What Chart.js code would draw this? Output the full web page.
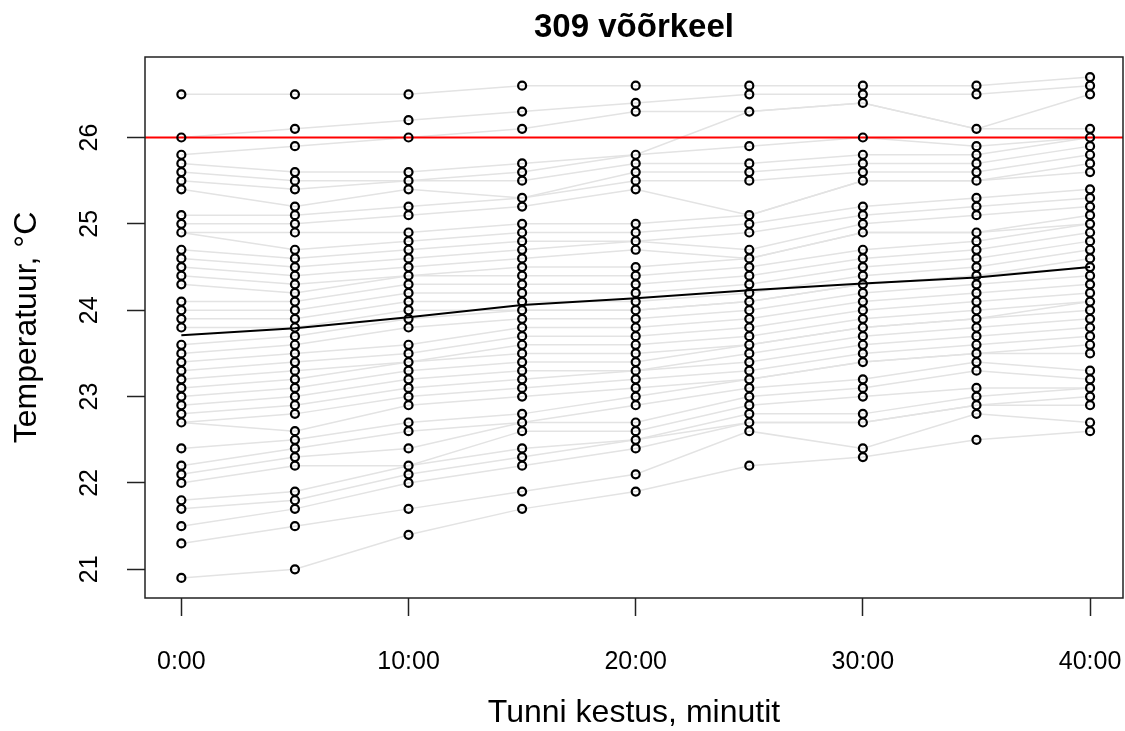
<!DOCTYPE html>
<html>
<head>
<meta charset="utf-8">
<title>309 võõrkeel</title>
<script src="https://cdn.jsdelivr.net/npm/chart.js@4/dist/chart.umd.min.js"></script>
<style>
  html, body { margin: 0; padding: 0; background: #fff; }
  canvas { display: block; }
</style>
</head>
<body>
<canvas id="tempChart" width="1125" height="731"></canvas>
<script>
// Minutes from lesson start
const minutes = [0, 5, 10, 15, 20, 25, 30, 35, 40];

// Measured temperatures at each time step, highest first
const temps00 = [26.5, 26.0, 25.8, 25.7, 25.6, 25.5, 25.4, 25.1, 25.0, 24.9, 24.7, 24.6, 24.5, 24.4, 24.3, 24.1, 24.0, 23.9, 23.8, 23.6, 23.5, 23.4, 23.3, 23.2, 23.1, 23.0, 22.9, 22.8, 22.7, 22.4, 22.2, 22.1, 22.0, 21.8, 21.7, 21.5, 21.3, 20.9];
const temps05 = [26.5, 26.1, 25.9, 25.6, 25.5, 25.4, 25.2, 25.1, 25.0, 24.9, 24.7, 24.6, 24.5, 24.4, 24.3, 24.2, 24.1, 24.0, 23.9, 23.8, 23.7, 23.6, 23.5, 23.4, 23.3, 23.2, 23.1, 23.0, 22.9, 22.8, 22.6, 22.5, 22.4, 22.3, 22.2, 21.9, 21.8, 21.7, 21.5, 21.0];
const temps10 = [26.5, 26.2, 26.0, 25.6, 25.5, 25.4, 25.2, 25.1, 24.9, 24.8, 24.7, 24.6, 24.5, 24.4, 24.3, 24.2, 24.1, 24.0, 23.9, 23.8, 23.6, 23.5, 23.4, 23.3, 23.2, 23.1, 23.0, 22.9, 22.7, 22.6, 22.4, 22.2, 22.1, 22.0, 21.7, 21.4];
const temps15 = [26.6, 26.3, 26.1, 25.7, 25.6, 25.5, 25.3, 25.2, 25.0, 24.9, 24.8, 24.7, 24.6, 24.5, 24.4, 24.3, 24.2, 24.1, 24.0, 23.9, 23.8, 23.7, 23.6, 23.5, 23.4, 23.3, 23.2, 23.1, 23.0, 22.8, 22.7, 22.6, 22.4, 22.3, 22.2, 21.9, 21.7];
const temps20 = [26.6, 26.4, 26.3, 25.8, 25.7, 25.6, 25.5, 25.4, 25.0, 24.9, 24.8, 24.7, 24.5, 24.4, 24.3, 24.2, 24.1, 24.0, 23.9, 23.8, 23.7, 23.6, 23.5, 23.4, 23.3, 23.2, 23.1, 23.0, 22.9, 22.7, 22.6, 22.5, 22.4, 22.1, 21.9];
const temps25 = [26.6, 26.5, 26.3, 25.9, 25.7, 25.6, 25.5, 25.1, 25.0, 24.9, 24.7, 24.6, 24.5, 24.4, 24.3, 24.2, 24.1, 24.0, 23.9, 23.8, 23.7, 23.6, 23.5, 23.4, 23.3, 23.2, 23.1, 23.0, 22.9, 22.8, 22.7, 22.6, 22.2];
const temps30 = [26.6, 26.5, 26.4, 26.0, 25.8, 25.7, 25.6, 25.5, 25.2, 25.1, 25.0, 24.9, 24.7, 24.6, 24.5, 24.4, 24.3, 24.2, 24.1, 24.0, 23.9, 23.8, 23.7, 23.6, 23.5, 23.4, 23.2, 23.1, 23.0, 22.8, 22.7, 22.4, 22.3];
const temps35 = [26.6, 26.5, 26.1, 25.9, 25.8, 25.7, 25.6, 25.5, 25.3, 25.2, 25.1, 24.9, 24.8, 24.7, 24.6, 24.5, 24.4, 24.3, 24.2, 24.1, 24.0, 23.9, 23.8, 23.7, 23.6, 23.5, 23.4, 23.3, 23.1, 23.0, 22.9, 22.8, 22.5];
const temps40 = [26.7, 26.6, 26.5, 26.1, 26.0, 25.9, 25.8, 25.7, 25.6, 25.4, 25.3, 25.2, 25.1, 25.0, 24.9, 24.8, 24.7, 24.6, 24.5, 24.4, 24.3, 24.2, 24.1, 24.0, 23.9, 23.8, 23.7, 23.6, 23.5, 23.3, 23.2, 23.1, 23.0, 22.9, 22.7, 22.6];

// Average over all lessons and the comfort limit
const meanTemp = [23.71, 23.79, 23.92, 24.06, 24.14, 24.23, 24.31, 24.38, 24.50];
const limitTemp = 26;

const xTicks = [0, 10, 20, 30, 40];
const yTicks = [21, 22, 23, 24, 25, 26];

const columns = [temps00, temps05, temps10, temps15, temps20, temps25, temps30, temps35, temps40];
const X_MIN = -1.6, X_MAX = 41.45;
const Y_MIN = 20.668, Y_MAX = 26.932;
const FONT = '"Liberation Sans", Arial, sans-serif';

// One grey line per lesson, joining values of the same rank across time steps
const nLessons = Math.max(...columns.map(c => c.length));
const lessonSets = [];
for (let i = 0; i < nLessons; i++) {
  const pts = minutes.map((m, j) => {
    const col = columns[j];
    const k = Math.round(i * (col.length - 1) / (nLessons - 1));
    return { x: m, y: col[k] };
  });
  lessonSets.push({
    data: pts,
    showLine: true,
    borderColor: "#e3e3e3",
    borderWidth: 1.5,
    pointRadius: 0,
    order: 5
  });
}

const pointData = [];
columns.forEach((col, j) => col.forEach(t => pointData.push({ x: minutes[j], y: t })));

// Box, rotated y labels and titles
const frame = {
  id: "frame",
  afterDraw(chart) {
    const { ctx, chartArea: a, scales: { y } } = chart;
    const cx = (a.left + a.right) / 2;
    ctx.save();
    ctx.strokeStyle = "#222";
    ctx.lineWidth = 1.5;
    ctx.strokeRect(a.left, a.top, a.right - a.left, a.bottom - a.top);

    ctx.fillStyle = "#000";
    ctx.textAlign = "center";
    ctx.textBaseline = "middle";

    ctx.font = "25px " + FONT;
    yTicks.forEach(v => {
      ctx.save();
      ctx.translate(90, y.getPixelForValue(v));
      ctx.rotate(-Math.PI / 2);
      ctx.fillText(String(v), 0, 0);
      ctx.restore();
    });

    ctx.font = "32px " + FONT;
    ctx.save();
    ctx.translate(27, (a.top + a.bottom) / 2);
    ctx.rotate(-Math.PI / 2);
    ctx.fillText("Temperatuur, °C", 0, 0);
    ctx.restore();

    ctx.fillText("Tunni kestus, minutit", cx, 713);

    ctx.font = "bold 33px " + FONT;
    ctx.fillText("309 võõrkeel", cx, 28);
    ctx.restore();
  }
};

const ctx = document.getElementById("tempChart").getContext("2d");
new Chart(ctx, {
  type: "scatter",
  data: {
    datasets: [
      ...lessonSets,
      {
        data: [{ x: X_MIN, y: limitTemp }, { x: X_MAX, y: limitTemp }],
        showLine: true,
        borderColor: "#ff0000",
        borderWidth: 2,
        pointRadius: 0,
        order: 4
      },
      {
        data: pointData,
        showLine: false,
        pointRadius: 4,
        pointBorderWidth: 2.2,
        pointBorderColor: "#000",
        pointBackgroundColor: "rgba(0,0,0,0)",
        order: 2
      },
      {
        data: minutes.map((m, j) => ({ x: m, y: meanTemp[j] })),
        showLine: true,
        borderColor: "#000",
        borderWidth: 2,
        pointRadius: 0,
        order: 1
      }
    ]
  },
  options: {
    responsive: false,
    animation: false,
    devicePixelRatio: 1,
    layout: { autoPadding: false, padding: { top: 57, right: 2, left: 0, bottom: 0 } },
    plugins: { legend: { display: false }, tooltip: { enabled: false }, title: { display: false } },
    scales: {
      x: {
        type: "linear",
        min: X_MIN,
        max: X_MAX,
        afterBuildTicks: s => { s.ticks = xTicks.map(v => ({ value: v })); },
        afterFit: s => { s.height = 133; s.paddingLeft = 0; s.paddingRight = 0; },
        ticks: {
          callback: v => v + ":00",
          font: { family: FONT, size: 25 },
          color: "#000",
          padding: 31,
          maxRotation: 0,
          autoSkip: false
        },
        grid: { drawOnChartArea: false, tickLength: 18, tickWidth: 1.5, tickColor: "#222" },
        border: { display: false }
      },
      y: {
        min: Y_MIN,
        max: Y_MAX,
        afterBuildTicks: s => { s.ticks = yTicks.map(v => ({ value: v })); },
        afterFit: s => { s.width = 145; s.paddingTop = 0; s.paddingBottom = 0; },
        ticks: { display: false },
        grid: { drawOnChartArea: false, tickLength: 18, tickWidth: 1.5, tickColor: "#222" },
        border: { display: false }
      }
    }
  },
  plugins: [frame]
});
</script>
</body>
</html>
